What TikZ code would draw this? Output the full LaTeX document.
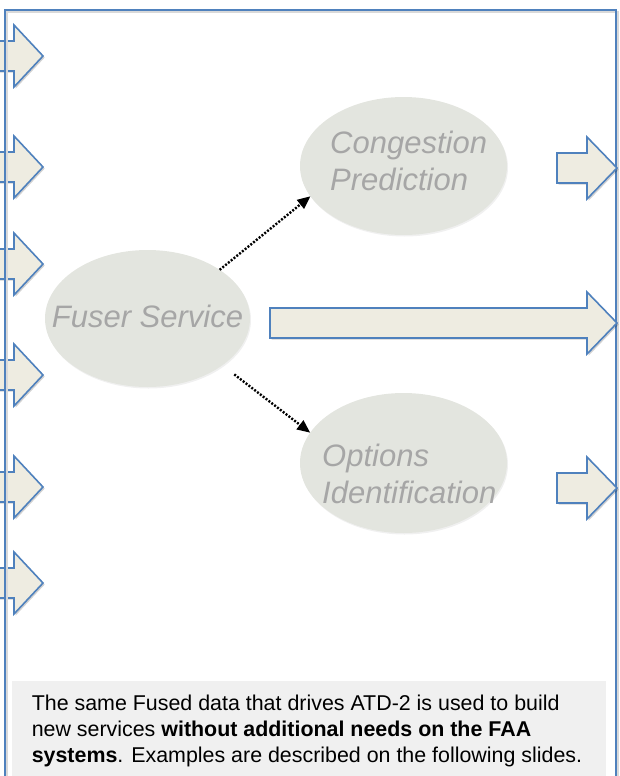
\documentclass[tikz,border=0pt]{standalone}
\usepackage{fontspec}
\setmainfont{Liberation Sans}
\usetikzlibrary{shapes.geometric,arrows.meta,shadows}
\definecolor{ablue}{HTML}{4F81BD}
\definecolor{afill}{HTML}{EEECE1}
\definecolor{efill}{HTML}{E3E5DF}
\definecolor{etext}{HTML}{A6A6A6}
\definecolor{boxfill}{HTML}{F0F0F0}
\tikzset{
  blockarrow/.style={draw=ablue, fill=afill, line width=1.6pt, line join=miter,
    drop shadow={shadow xshift=1.6pt, shadow yshift=-1.6pt, fill=black, opacity=0.18}},
  ell/.style={ellipse, fill=efill, draw=none, inner sep=0pt, outer sep=0pt,
    drop shadow={shadow xshift=1pt, shadow yshift=-1.5pt, fill=black, opacity=0.06}},
  elabel/.style={font=\fontsize{31}{37}\selectfont\itshape, text=etext, inner sep=0pt, align=left},
  dotarrow/.style={line width=2.4pt, dash pattern=on 2pt off 1.6pt,
    -{Triangle[length=13pt,width=11pt]}},
  frame/.style={draw=ablue, line width=1.6pt},
}
\newcommand\blockarr[4]{%
  \draw[blockarrow] (#1,#4-15) -- (#2,#4-15) -- (#2,#4-31) -- (#3,#4) -- (#2,#4+31) -- (#2,#4+15) -- (#1,#4+15) -- cycle;}
\begin{document}
\begin{tikzpicture}[x=1pt,y=-1pt]
\useasboundingbox (0,0) rectangle (620,776);
% left input arrows
\foreach \cy in {56,167,264,375,487,583}{\blockarr{-6}{14}{43}{\cy}}
% frame
\draw[black!15, line width=1.4pt] (7,790) -- (7,12) -- (618,12) -- (618,790);
\draw[frame] (5,790) -- (5,10) -- (616,10) -- (616,790);
% ellipses
\node[ell, minimum width=205pt, minimum height=137pt] (fuser) at (147.5,318.5) {};
\node[ell, minimum width=207pt, minimum height=138pt] (cong) at (403.5,166) {};
\node[ell, minimum width=207pt, minimum height=140pt] (opt) at (403.5,463) {};
\node[elabel, anchor=base] (fuserlbl) at (147.5,327) {Fuser Service};
\node[elabel, anchor=west] (conglbl) at (330,161) {Congestion\\Prediction};
\node[elabel, anchor=west] (optlbl) at (322,473.5) {Options\\Identification};
% dotted connectors
\draw[dotarrow] (fuser.34) -- (cong.198);
\draw[dotarrow, shorten <=15pt] (fuser.328.5) -- (opt.162);
% output arrows
\blockarr{557}{587}{617}{168}
\blockarr{270}{587}{617}{323}
\blockarr{557}{587}{617}{488}
% note box
\fill[boxfill] (12,681) rectangle (606,780);
\node[anchor=north west, align=left, inner sep=0pt, font=\fontsize{21.4}{26}\selectfont] (note) at (31.6,695)
  {The same Fused data that drives ATD-2 is used to build\\new services \textbf{without additional needs on the FAA}\\\textbf{systems}. Examples are described on the following slides.};
\end{tikzpicture}
\end{document}
